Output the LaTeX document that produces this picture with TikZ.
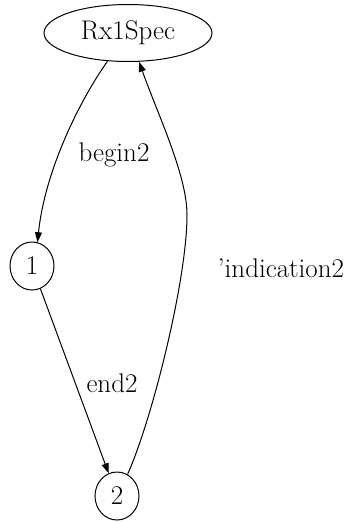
\documentclass[tikz,border=0pt]{standalone}
\usepackage{fontspec}
\usetikzlibrary{arrows.meta, shapes.geometric}
\tikzset{
  % states and transitions
  specnode/.style  = { draw, line width=1pt, ellipse, minimum width=168pt,
                        minimum height=57pt, inner sep=0 },
  statenode/.style = { draw, line width=1pt, ellipse, minimum width=44pt,
                        minimum height=48pt, inner sep=0 },
  transition/.style = { line width=1pt, -{Triangle[length=10pt, width=7pt]} },
  translabel/.style = { inner sep=1pt }
}

\begin{document}
\begin{tikzpicture}[x=1pt, y=-1pt, font=\fontsize{27}{32}\selectfont]

  \useasboundingbox (0,0) rectangle (343,522);

  % --- states ---------------------------------------------------
  \node[specnode]  (spec) at (128,33)  {Rx1Spec};
  \node[statenode] (s1)   at (32,266)  {1};
  \node[statenode] (s2)   at (117,496) {2};

  % --- transitions ----------------------------------------------
  \draw[transition] (spec.234) .. controls (80,100) and (45,170) .. (s1.77);
  \draw[transition] (s1) -- (s2);
  \draw[transition] (s2.64) .. controls (152,420) and (187,280) .. (187,215)
                    .. controls (187,175) and (158,115) .. (spec.291);

  % --- labels ---------------------------------------------------
  \node[translabel] (lbegin) at (114,155) {begin2};
  \node[translabel] (lend)   at (112,383) {end2};
  \node[translabel] (lind)   at (281,268) {'indication2};

\end{tikzpicture}
\end{document}
